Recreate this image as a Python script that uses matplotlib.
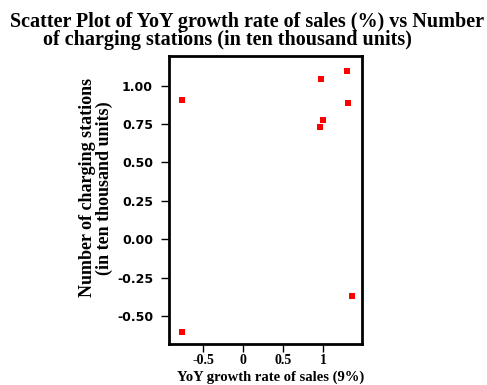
import matplotlib.pyplot as plt

# YoY growth rate of sales vs charging stations
growth = [-0.766, -0.766, 0.971, 1.296, 1.313, 1.000, 0.959, 1.355]
stations = [0.909, -0.604, 1.046, 1.094, 0.889, 0.775, 0.733, -0.369]

xticks = [-0.5, 0, 0.5, 1]
xticklabels = ['-0.5', '0', '0.5', '1']
yticks = [-0.5, -0.25, 0.0, 0.25, 0.5, 0.75, 1.0]

serif = 'Liberation Serif'

fig = plt.figure(figsize=(4.87, 3.85), dpi=100)
ax = fig.add_axes([0.347, 0.1065, 0.396, 0.748])

ax.scatter(growth, stations, marker='s', s=14, color='red', linewidths=0)

ax.set_xlim(-0.93, 1.48)
ax.set_ylim(-0.682, 1.193)

ax.set_xticks(xticks)
ax.set_xticklabels(xticklabels, fontfamily=serif, fontweight='bold', fontsize=10)
ax.set_yticks(yticks)
ax.set_yticklabels(['%.2f' % v for v in yticks], fontfamily='DejaVu Sans',
                   fontweight='bold', fontsize=9)
ax.tick_params(length=5.5, width=1, direction='out')
ax.tick_params(axis='y', pad=6)
ax.tick_params(axis='x', pad=1.5)

for sp in ax.spines.values():
    sp.set_linewidth(2)

# x label sits at the very bottom edge of the figure
fig.text(0.555, 0.002, 'YoY growth rate of sales (9%)', ha='center', va='bottom',
         fontfamily=serif, fontweight='bold', fontsize=10.5)
ax.set_ylabel('Number of charging stations\n(in ten thousand units)',
              fontfamily=serif, fontweight='bold', fontsize=13,
              linespacing=1.0)
ax.yaxis.set_label_coords(-0.29, 0.542)

fig.text(0.507, 0.930, 'Scatter Plot of YoY growth rate of sales (%) vs Number',
         ha='center', va='baseline', fontfamily=serif, fontweight='bold', fontsize=14.5)
fig.text(0.466, 0.883, 'of charging stations (in ten thousand units)',
         ha='center', va='baseline', fontfamily=serif, fontweight='bold', fontsize=14.5)

fig.savefig('out.png', dpi=100)
